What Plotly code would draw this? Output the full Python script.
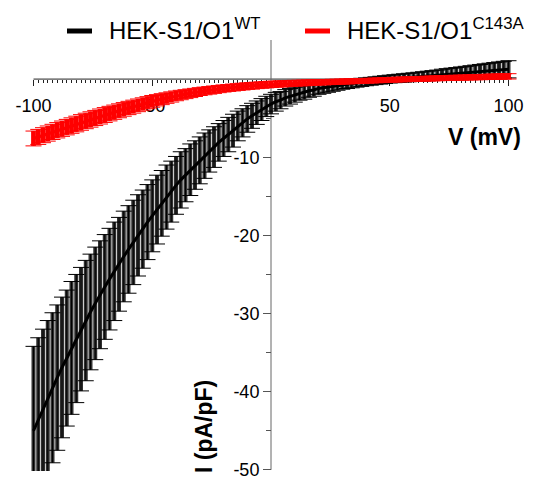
import plotly.graph_objects as go

# Voltage ramp (mV)
voltage = list(range(-100, 101, 2))

# HEK-S1/O1 WT: mean current density (pA/pF) and SEM
wt_mean = [
    -45.0, -43.6, -42.2, -40.8, -39.5, -38.2,
    -36.9, -35.7, -34.4, -33.2, -32.0,
    -30.9, -29.8, -28.7, -27.6, -26.6,
    -25.6, -24.6, -23.7, -22.7, -21.8,
    -20.9, -20.0, -19.2, -18.3, -17.5,
    -16.7, -15.9, -15.1, -14.4, -13.6,
    -12.9, -12.3, -11.6, -11.0, -10.4,
    -9.8, -9.2, -8.7, -8.1, -7.6,
    -7.1, -6.6, -6.0, -5.6, -5.1,
    -4.7, -4.3, -3.9, -3.5, -3.2,
    -2.9, -2.7, -2.4, -2.2, -2.0,
    -1.8, -1.7, -1.5, -1.4, -1.2,
    -1.1, -1.0, -0.9, -0.8, -0.7,
    -0.63, -0.56, -0.49, -0.42, -0.35,
    -0.28, -0.21, -0.14, -0.07, 0.0,
    0.05, 0.1, 0.15, 0.2, 0.25,
    0.3, 0.35, 0.4, 0.45, 0.5,
    0.58, 0.62, 0.66, 0.7, 0.75,
    0.8, 0.85, 0.9, 0.95, 1.0,
    1.05, 1.1, 1.15, 1.2, 1.25,
]
wt_sem = [
    10.8, 10.5, 10.2, 9.9, 9.6, 9.3,
    9.0, 8.7, 8.5, 8.2, 7.9,
    7.7, 7.4, 7.2, 6.9, 6.7,
    6.5, 6.3, 6.0, 5.8, 5.6,
    5.4, 5.2, 5.0, 4.8, 4.6,
    4.4, 4.2, 4.1, 3.9, 3.7,
    3.6, 3.4, 3.3, 3.1, 3.0,
    2.9, 2.7, 2.6, 2.4, 2.3,
    2.2, 2.1, 1.9, 1.8, 1.7,
    1.6, 1.5, 1.4, 1.3, 1.25,
    1.2, 1.1, 1.05, 1.0, 0.95,
    0.9, 0.87, 0.83, 0.79, 0.75,
    0.72, 0.69, 0.66, 0.63, 0.6,
    0.58, 0.56, 0.54, 0.52, 0.5,
    0.5, 0.5, 0.5, 0.5, 0.5,
    0.51, 0.52, 0.53, 0.54, 0.55,
    0.57, 0.59, 0.61, 0.63, 0.65,
    0.68, 0.71, 0.74, 0.77, 0.8,
    0.83, 0.86, 0.89, 0.92, 0.95,
    0.98, 1.01, 1.04, 1.07, 1.1,
]

# HEK-S1/O1 C143A: mean current density (pA/pF) and SEM
mut_mean = [
    -7.6, -7.4, -7.18, -6.97, -6.76, -6.55,
    -6.35, -6.15, -5.95, -5.75, -5.55,
    -5.36, -5.17, -4.98, -4.79, -4.6,
    -4.42, -4.24, -4.06, -3.88, -3.7,
    -3.53, -3.36, -3.19, -3.02, -2.85,
    -2.71, -2.57, -2.43, -2.29, -2.15,
    -2.04, -1.93, -1.82, -1.71, -1.6,
    -1.52, -1.44, -1.36, -1.28, -1.2,
    -1.14, -1.08, -1.02, -0.96, -0.9,
    -0.86, -0.81, -0.77, -0.72, -0.68,
    -0.65, -0.62, -0.59, -0.56, -0.53,
    -0.51, -0.49, -0.46, -0.44, -0.42,
    -0.4, -0.38, -0.36, -0.34, -0.32,
    -0.3, -0.28, -0.26, -0.24, -0.22,
    -0.2, -0.17, -0.15, -0.12, -0.1,
    -0.08, -0.06, -0.04, -0.02, 0.0,
    0.02, 0.04, 0.06, 0.08, 0.1,
    0.12, 0.13, 0.15, 0.17, 0.18,
    0.2, 0.22, 0.24, 0.25, 0.27,
    0.29, 0.31, 0.32, 0.34, 0.35,
]
mut_sem = [
    0.95, 0.96, 0.96, 0.97, 0.97, 0.98,
    0.98, 0.99, 0.99, 1.0, 1.0,
    0.99, 0.98, 0.97, 0.96, 0.95,
    0.93, 0.91, 0.89, 0.87, 0.85,
    0.83, 0.81, 0.79, 0.77, 0.75,
    0.72, 0.70, 0.67, 0.65, 0.62,
    0.6, 0.57, 0.55, 0.52, 0.5,
    0.49, 0.48, 0.47, 0.46, 0.45,
    0.44, 0.44, 0.43, 0.43, 0.42,
    0.42, 0.41, 0.41, 0.4, 0.4,
    0.39, 0.39, 0.38, 0.38, 0.37,
    0.36, 0.36, 0.35, 0.35, 0.34,
    0.34, 0.33, 0.33, 0.32, 0.32,
    0.32, 0.31, 0.31, 0.3, 0.3,
    0.3, 0.3, 0.3, 0.3, 0.3,
    0.3, 0.3, 0.3, 0.3, 0.3,
    0.3, 0.3, 0.31, 0.31, 0.31,
    0.31, 0.31, 0.32, 0.32, 0.32,
    0.32, 0.32, 0.33, 0.33, 0.33,
    0.33, 0.33, 0.34, 0.34, 0.34,
]

series_names = ["HEK-S1/O1<sup>WT</sup>", "HEK-S1/O1<sup>C143A</sup>"]
series_colors = ["#000000", "#ff0000"]
stem_colors = ["#303030", "#ff0000"]
stem_widths = [4.0, 4.8]

x_major = [-100, -50, 50, 100]
x_minor = [v for v in range(-100, 101, 2) if v not in (-100, -50, 0, 50, 100)]
y_major = [-50, -40, -30, -20, -10]
y_minor = [-45, -35, -25, -15, -5]

X_RANGE = [-104, 104]
Y_RANGE = [-50.15, 5]

FONT = "Arial, Liberation Sans, sans-serif"

fig = go.Figure()
for mean, sem, name, color, scol, sw in [
    (wt_mean, wt_sem, series_names[0], series_colors[0], stem_colors[0], stem_widths[0]),
    (mut_mean, mut_sem, series_names[1], series_colors[1], stem_colors[1], stem_widths[1]),
]:
    # thick stems (no caps)
    fig.add_trace(go.Scatter(
        x=voltage, y=mean, mode="markers", marker=dict(size=1, opacity=0),
        error_y=dict(type="data", array=sem, visible=True,
                     color=scol, thickness=sw, width=0),
        showlegend=False, hoverinfo="skip",
    ))
    # thin caps
    fig.add_trace(go.Scatter(
        x=voltage, y=mean, mode="markers", marker=dict(size=1, opacity=0),
        error_y=dict(type="data", array=sem, visible=True,
                     color=color, thickness=1, width=8),
        showlegend=False, hoverinfo="skip",
    ))
    # mean trace
    fig.add_trace(go.Scatter(
        x=voltage, y=mean, mode="lines", name=name,
        line=dict(color=color, width=3),
        showlegend=False,
    ))

# axis positions (x axis at I=0, y axis at V=0)
xpos = (0 - Y_RANGE[0]) / (Y_RANGE[1] - Y_RANGE[0])
ypos = (0 - X_RANGE[0]) / (X_RANGE[1] - X_RANGE[0])

fig.update_layout(
    width=541, height=478,
    margin=dict(l=24, r=23, t=40, b=7, autoexpand=False),
    paper_bgcolor="white", plot_bgcolor="white",
    font=dict(family=FONT, color="black"),
    xaxis=dict(
        range=X_RANGE, anchor="free", position=xpos, automargin=False,
        showgrid=False, zeroline=False, showline=False,
        tickmode="array", tickvals=x_major,
        ticktext=[str(v) for v in x_major],
        ticks="outside", ticklen=6, tickwidth=1, tickcolor="#222",
        tickfont=dict(size=18, family=FONT, color="black"),
        ticklabelstandoff=4, ticklabeloverflow="allow",
        minor=dict(tickvals=x_minor, ticks="outside", ticklen=3,
                   tickwidth=1, tickcolor="#222"),
        layer="below traces",
    ),
    yaxis=dict(
        range=Y_RANGE, anchor="free", position=ypos, automargin=False,
        showgrid=False, zeroline=False, showline=False,
        tickmode="array", tickvals=y_major,
        ticktext=[str(v) for v in y_major],
        ticks="outside", ticklen=8, tickwidth=1, tickcolor="#555",
        tickfont=dict(size=18, family=FONT, color="black"),
        ticklabeloverflow="allow",
        minor=dict(tickvals=y_minor, ticks="outside", ticklen=5,
                   tickwidth=1, tickcolor="#555"),
        layer="below traces",
    ),
)

# axis lines
fig.add_shape(type="line", xref="x", yref="y", x0=-100, x1=100, y0=0, y1=0,
              line=dict(color="#222", width=1), layer="below")
fig.add_shape(type="line", xref="x", yref="y", x0=0, x1=0, y0=-50, y1=5,
              line=dict(color="#666", width=1), layer="below")

# axis titles
fig.add_annotation(text="<b>V (mV)</b>", xref="paper", yref="paper",
                   x=(484 - 24) / 494, y=(471 - 137) / 431,
                   xanchor="center", yanchor="middle", showarrow=False,
                   font=dict(size=23, family=FONT, color="black"))
fig.add_annotation(text="<b>I (pA/pF)</b>", xref="paper", yref="paper",
                   x=(204 - 24) / 494, y=(471 - 427) / 431, textangle=-90,
                   xanchor="center", yanchor="middle", showarrow=False,
                   font=dict(size=23, family=FONT, color="black"))

# legend (manual)
legend_items = [(67, 92, 107), (305, 330, 345)]
for (s0, s1, tx), name, color in zip(legend_items, series_names, series_colors):
    fig.add_shape(type="line", xref="paper", yref="paper",
                  x0=(s0 - 24) / 494, x1=(s1 - 24) / 494,
                  y0=(471 - 31) / 431, y1=(471 - 31) / 431,
                  line=dict(color=color, width=5))
    fig.add_annotation(text=name, xref="paper", yref="paper",
                       x=(tx - 24) / 494, y=(471 - 29) / 431,
                       xanchor="left", yanchor="middle", showarrow=False,
                       font=dict(size=24, family=FONT, color="black"))

fig.write_html(
    "out.html",
    config={"displayModeBar": False},
    post_script="document.body.style.margin='0';document.body.style.padding='0';",
)
